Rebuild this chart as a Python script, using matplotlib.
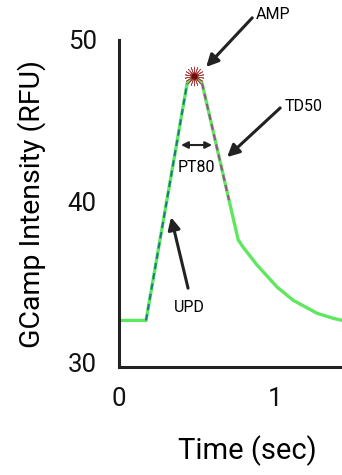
import matplotlib

matplotlib.use("Agg")

import matplotlib.pyplot as plt

plt.rcParams["font.family"] = ["Roboto", "DejaVu Sans"]

# trace
time_s = [0.0, 0.173, 0.436, 0.46, 0.485, 0.51, 0.532, 0.763, 0.795, 0.885,
          1.013, 1.115, 1.269, 1.372, 1.43, 1.6]
intensity = [32.6, 32.6, 47.3, 47.55, 47.62, 47.55, 47.3, 37.6, 37.14, 36.02,
             34.66, 33.85, 33.04, 32.73, 32.6, 32.5]

# overlays: upstroke and early decay segments
upd_time = [0.173, 0.436]
upd_int = [32.6, 47.3]
td_time = [0.532, 0.704]
td_int = [47.3, 40.06]

peak_time = 0.48
peak_int = 47.75

yticks = [30, 40, 50]
xticks = [0, 1]

fig = plt.figure(figsize=(3.42, 4.75), dpi=100)
# the axes run past the right edge of the picture, as in the reference
ax = fig.add_axes([0.348, 0.227, 0.749, 0.689])

ax.plot(time_s, intensity, color="#5fe85f", lw=2.4, zorder=2, solid_capstyle="round")
ax.plot(upd_time, upd_int, color="#1f7a80", lw=1.5, ls=(0, (3, 2)), zorder=3)
ax.plot(td_time, td_int, color="#9b4f8f", lw=1.5, ls=(0, (3, 2)), zorder=3)
ax.plot([peak_time], [peak_int], marker=(18, 2, 0), ms=14, mew=0.5,
        color="#a83c3c", zorder=4)
ax.plot([peak_time], [peak_int], marker="o", ms=3.5, color="#6e0e0e", zorder=5)

arrow = dict(arrowstyle="-|>", lw=2.2, color="#222222", mutation_scale=18,
             shrinkA=0, shrinkB=0)
ax.annotate("", xy=(0.558, 48.32), xytext=(0.853, 51.37), arrowprops=arrow,
            annotation_clip=False)
ax.text(0.987, 51.6, "AMP", fontsize=11.5, ha="center", va="center", clip_on=False)

ax.annotate("", xy=(0.692, 42.73), xytext=(1.032, 45.78), arrowprops=arrow)
ax.text(1.18, 45.84, "TD50", fontsize=11.5, ha="center", va="center")

ax.annotate("", xy=(0.333, 39.0), xytext=(0.442, 34.6), arrowprops=arrow)
ax.text(0.449, 33.42, "UPD", fontsize=11.5, ha="center", va="center")

ax.annotate("", xy=(0.397, 43.48), xytext=(0.596, 43.48),
            arrowprops=dict(arrowstyle="<|-|>", lw=1.5, color="#222222",
                            mutation_scale=10, shrinkA=0, shrinkB=0))
ax.text(0.494, 42.11, "PT80", fontsize=11.5, ha="center", va="center")

ax.set_xlim(0, 1.64)
ax.set_ylim(29.7, 50.0)
ax.set_xticks(xticks)
ax.set_yticks(yticks)
ax.tick_params(length=0, labelsize=18.5, colors="#111111")
ax.tick_params(axis="y", pad=16)
ax.tick_params(axis="x", pad=14)
for side in ("top", "right"):
    ax.spines[side].set_visible(False)
for side in ("left", "bottom"):
    ax.spines[side].set_linewidth(2.2)
    ax.spines[side].set_color("#222222")

ax.set_xlabel("Time (sec)", fontsize=21, labelpad=18)
ax.set_ylabel("GCamp Intensity (RFU)", fontsize=20.5, labelpad=16)

fig.savefig("out.png", dpi=100)
